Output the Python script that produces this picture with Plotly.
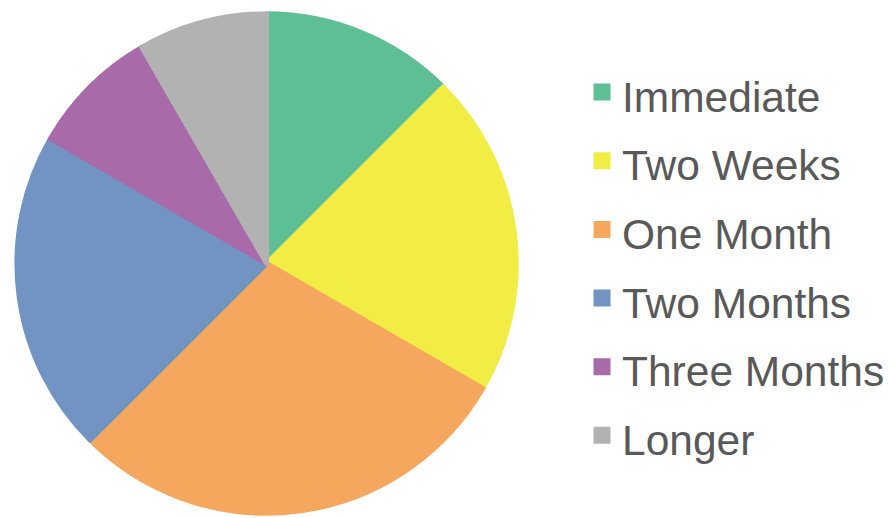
import plotly.graph_objects as go

# Time to completion, number of responses per category
categories = ["Immediate", "Two Weeks", "One Month", "Two Months", "Three Months", "Longer"]
counts = [3, 5, 7, 5, 2, 2]
colors = ["#5ebf94", "#f1ed45", "#f6a75e", "#7194c2", "#a96aa9", "#b2b2b2"]

LABEL_SIZE = 42.5  # rendered legend text size
legend_labels = [f"<span style='font-size:{LABEL_SIZE}px'>{c}</span>" for c in categories]

W, H = 890, 518
cx, cy, r = 267.5, 263.5, 250.5  # pie centre and radius in pixels

fig = go.Figure(
    go.Pie(
        labels=legend_labels,
        values=counts,
        sort=False,
        direction="clockwise",
        rotation=0,
        textinfo="none",
        hoverinfo="skip",
        marker=dict(colors=colors, line=dict(color=colors, width=5)),
        domain=dict(
            x=[(cx - r) / W, (cx + r) / W],
            y=[(H - cy - r) / H, (H - cy + r) / H],
        ),
    )
)

fig.update_layout(
    width=W,
    height=H,
    margin=dict(l=0, r=0, t=0, b=0),
    paper_bgcolor="white",
    plot_bgcolor="white",
    showlegend=True,
    legend=dict(
        x=584 / W,
        xanchor="left",
        y=(H - 263.75) / H,
        yanchor="middle",
        font=dict(family="Liberation Sans, Arial, sans-serif", size=50.5, color="#595959"),
        bgcolor="rgba(0,0,0,0)",
    ),
)

fig.write_html("out.html")
